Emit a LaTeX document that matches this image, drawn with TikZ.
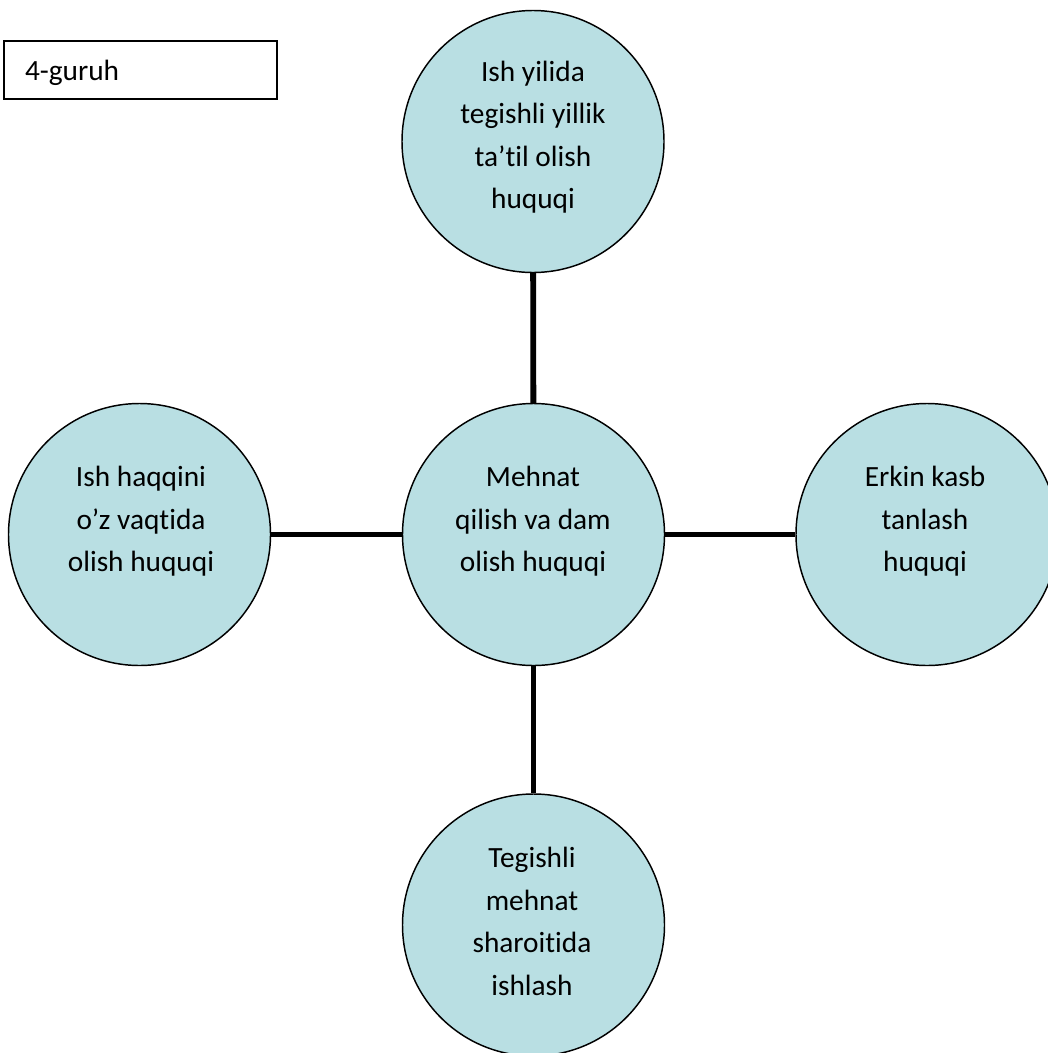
\documentclass[tikz,border=0pt]{standalone}
\usepackage{fontspec}
\setmainfont{Carlito}[RawFeature={-liga}]
\definecolor{bubble}{HTML}{B9DFE3}
\newcommand\lnstr{\rule[-7.4pt]{0pt}{24pt}}
\begin{document}
\begin{tikzpicture}[x=0.75pt,y=-0.75pt,
  bubblestyle/.style={circle,draw=black,line width=1.1pt,fill=bubble,minimum size=196.5pt,inner sep=0pt},
  bubbletext/.style={align=center,inner sep=0pt,font=\fontsize{22pt}{31.9pt}\selectfont},
  linkstyle/.style={line width=4.4pt},
  tagbox/.style={draw=black,line width=1.5pt,minimum width=204.75pt,minimum height=43.5pt,
    text width=173.25pt,inner xsep=15.75pt,align=left,text height=19.5pt,text depth=4.5pt,
    font=\fontsize{22pt}{26pt}\selectfont}]
\useasboundingbox (0,0) rectangle (1048,1053);
\begin{scope}
\clip (0,0) rectangle (1048,1053);
\node[bubblestyle] (top) at (533,141.5) {};
\node[bubblestyle] (mid) at (533.5,534.5) {};
\node[bubblestyle] (left) at (139.5,534.5) {};
\node[bubblestyle] (right) at (927,534.5) {};
\node[bubblestyle] (bot) at (533.5,925) {};
\draw[linkstyle] (mid) -- (top);
\draw[linkstyle] (mid) -- (left);
\draw[linkstyle] (mid) -- (right);
\draw[linkstyle] (mid) -- (bot);
\node[bubbletext] (toptext) at (533,139) {\lnstr Ish yilida\\\lnstr tegishli yillik\\\lnstr ta’til olish\\\lnstr huquqi};
\node[bubbletext] (midtext) at (533,523) {\lnstr Mehnat\\\lnstr qilish va dam\\\lnstr olish huquqi};
\node[bubbletext] (lefttext) at (141,523) {\lnstr Ish haqqini\\\lnstr o’z vaqtida\\\lnstr olish huquqi};
\node[bubbletext] (righttext) at (925,523) {\lnstr Erkin kasb\\\lnstr tanlash\\\lnstr huquqi};
\node[bubbletext] (bottext) at (532,925.5) {\lnstr Tegishli\\\lnstr mehnat\\\lnstr sharoitida\\\lnstr ishlash};
\node[tagbox] (tag) at (140.5,70) {4-guruh};
\end{scope}
\end{tikzpicture}
\end{document}
